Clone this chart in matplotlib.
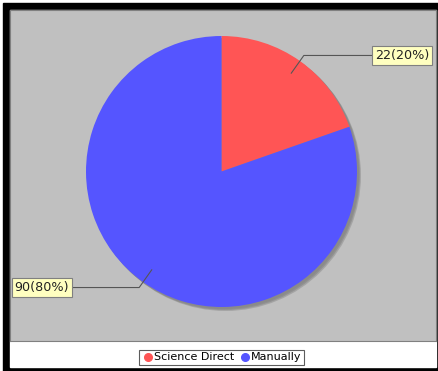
import numpy as np
import matplotlib
matplotlib.use('Agg')
import matplotlib.pyplot as plt
from matplotlib.patches import Rectangle, Circle
from matplotlib.lines import Line2D

# data
sources = ['Science Direct', 'Manually']
counts = [22, 90]
colors = ['#FF5555', '#5555FF']

W, H = 438, 371


def fx(x):
    return x / W


def fy(y):
    return 1 - y / H


fig = plt.figure(figsize=(W / 100, H / 100), dpi=100)
fig.patch.set_facecolor('white')

# black frame and white panel
fig.add_artist(Rectangle((fx(3), fy(371)), fx(435), 368 / H, color='black', zorder=-2))
fig.add_artist(Rectangle((fx(10), fy(367)), fx(426), 357 / H, color='white', zorder=-1))

# plot area (pixel coords scaled by pie radius)
cx, cy, r = 221.5, 171.5, 135.5
left, right, top, bottom = 10, 436, 10, 341
ax = fig.add_axes([fx(left), fy(bottom), (right - left) / W, (bottom - top) / H])

# shadow
for k, a in zip([4, 3, 2], [0.5, 0.7, 1.0]):
    ax.add_patch(Circle((k / r, -k / r), 1, color='#8A8A8A', alpha=a, lw=0, zorder=1))

wedges, _ = ax.pie(counts, colors=colors, startangle=90, counterclock=False,
                   radius=1, center=(0, 0), frame=True,
                   wedgeprops=dict(linewidth=0, zorder=2))
ax.set_facecolor('#C0C0C0')
ax.set_xlim((left - cx) / r, (right - cx) / r)
ax.set_ylim((cy - bottom) / r, (cy - top) / r)
ax.set_aspect('auto')
ax.set_xticks([])
ax.set_yticks([])
for s in ax.spines.values():
    s.set_color('#808080')
    s.set_linewidth(0.8)

total = sum(counts)
label_x = [(375 - cx) / r, (69 - cx) / r]
for w, c, lx in zip(wedges, counts, label_x):
    ang = np.deg2rad((w.theta1 + w.theta2) / 2)
    p1 = (0.89 * np.cos(ang), 0.89 * np.sin(ang))
    p2 = (1.05 * np.cos(ang), 1.05 * np.sin(ang))
    ax.plot([p1[0], p2[0], lx], [p1[1], p2[1], p2[1]], color='#555555', lw=0.8, zorder=3)
    txt = f'{c}({round(100 * c / total)}%)'
    ha = 'left' if lx > 0 else 'right'
    ax.text(lx, p2[1], txt, ha=ha, va='center', fontsize=9.2, color='#222222', zorder=4,
            bbox=dict(boxstyle='square,pad=0.2', facecolor='#FFFFC0', edgecolor='#808080', lw=0.8))

# legend
handles = [Line2D([], [], marker='o', ls='', color=col, markersize=5.5) for col in colors]
leg = fig.legend(handles, sources, loc='center', bbox_to_anchor=(fx(221.5), fy(357.5)),
                 ncol=2, fontsize=8, frameon=True, fancybox=False, borderpad=0.25,
                 handletextpad=0.0, columnspacing=0.4, handlelength=1.1, borderaxespad=0)
leg.get_frame().set_edgecolor('#333333')
leg.get_frame().set_linewidth(0.8)

fig.savefig('out.png', dpi=100)
